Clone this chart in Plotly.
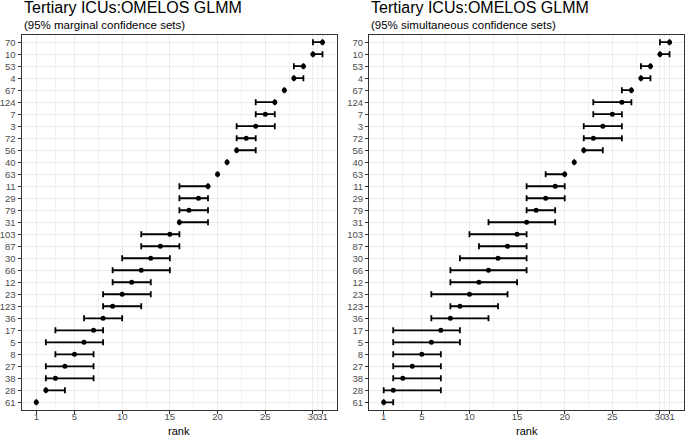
import plotly.graph_objects as go

# ---------------- data ----------------
hospitals = ["70", "10", "53", "4", "67", "124", "7", "3", "72", "56", "40", "63",
             "11", "29", "79", "31", "103", "87", "30", "66", "12", "23", "123",
             "36", "17", "5", "8", "27", "38", "28", "61"]
rank_est = [31, 30, 29, 28, 27, 26, 25, 24, 23, 22, 21, 20, 19, 18, 17, 16, 15,
            14, 13, 12, 11, 10, 9, 8, 7, 6, 5, 4, 3, 2, 1]
marg_lower = [30, 30, 28, 28, 27, 24, 24, 22, 22, 22, 21, 20, 16, 16, 16, 16, 12,
              12, 10, 9, 9, 8, 8, 6, 3, 2, 3, 2, 2, 2, 1]
marg_upper = [31, 31, 29, 29, 27, 26, 26, 26, 24, 24, 21, 20, 19, 19, 19, 19, 16,
              16, 15, 15, 13, 13, 12, 10, 8, 8, 7, 7, 7, 4, 1]
sim_lower = [30, 30, 28, 28, 26, 23, 23, 22, 22, 22, 21, 18, 16, 16, 16, 12, 10,
             11, 9, 8, 8, 6, 8, 6, 2, 2, 2, 2, 2, 1, 1]
sim_upper = [31, 31, 29, 29, 27, 27, 26, 26, 26, 24, 21, 20, 20, 20, 19, 19, 16,
             16, 16, 16, 15, 14, 13, 12, 9, 9, 7, 7, 7, 7, 2]
x_ticks = [1, 5, 10, 15, 20, 25, 30, 31]
x_minor = [3, 7.5, 12.5, 17.5, 22.5, 27.5, 30.5]
title_text = "Tertiary ICUs:OMELOS GLMM"
subtitles = ["(95% marginal confidence sets)", "(95% simultaneous confidence sets)"]

W, H = 685, 438
n = len(hospitals)
ypos = list(range(n, 0, -1))

FONT = "Liberation Sans, Arial, sans-serif"

fig = go.Figure()

panels = [(marg_lower, marg_upper, "x", "y"), (sim_lower, sim_upper, "x2", "y2")]
for lo, up, xa, ya in panels:
    fig.add_trace(go.Scatter(
        x=rank_est, y=ypos, mode="markers",
        marker=dict(color="black", size=5),
        error_x=dict(type="data", symmetric=False,
                     array=[u - e for u, e in zip(up, rank_est)],
                     arrayminus=[e - l for e, l in zip(rank_est, lo)],
                     color="black", thickness=1.8, width=3),
        xaxis=xa, yaxis=ya, showlegend=False, hoverinfo="skip"))

px_x = lambda p: p / W
px_y = lambda p: (H - p) / H

xdomains = [[px_x(22.0), px_x(336.8)], [px_x(369.4), px_x(683.8)]]
ydomain = [px_y(409.5), px_y(35.0)]

common_axis = dict(
    showline=True, mirror=True, linecolor="#333333", linewidth=1,
    ticks="outside", ticklen=3.5, tickcolor="#333333", tickwidth=1,
    tickfont=dict(size=9.5, color="#4d4d4d", family=FONT),
    gridcolor="#ebebeb", gridwidth=1, zeroline=False, showgrid=True,
)

layout_axes = {}
for i, (xd, xa, ya) in enumerate(zip(xdomains, ["xaxis", "xaxis2"], ["yaxis", "yaxis2"])):
    xref = "x" if i == 0 else "x2"
    yref = "y" if i == 0 else "y2"
    layout_axes[xa] = dict(
        common_axis, domain=xd, range=[-0.5, 32.5], anchor=yref,
        tickmode="array", tickvals=x_ticks, ticktext=[str(t) for t in x_ticks],
        tickangle=0, ticklabelstandoff=-5,
        minor=dict(tickmode="array", tickvals=x_minor, showgrid=True,
                   gridcolor="#f2f2f2", gridwidth=0.6, ticks=""),
    )
    layout_axes[ya] = dict(
        common_axis, domain=ydomain, range=[0.4, n + 0.6], anchor=xref,
        tickmode="array", tickvals=ypos, ticktext=hospitals,
    )

annotations = []
for i, xd in enumerate(xdomains):
    annotations.append(dict(text=title_text, x=xd[0], y=px_y(7.5), xref="paper", yref="paper",
                            xanchor="left", yanchor="middle", showarrow=False,
                            font=dict(size=16, color="black", family=FONT)))
    annotations.append(dict(text=subtitles[i], x=xd[0], y=px_y(24.5), xref="paper", yref="paper",
                            xanchor="left", yanchor="middle", showarrow=False,
                            font=dict(size=11.5, color="black", family=FONT)))
    annotations.append(dict(text="rank", x=(xd[0] + xd[1]) / 2, y=px_y(431), xref="paper",
                            yref="paper", xanchor="center", yanchor="middle", showarrow=False,
                            font=dict(size=11, color="black", family=FONT)))

fig.update_layout(
    width=W, height=H, margin=dict(l=0, r=0, t=0, b=0),
    paper_bgcolor="white", plot_bgcolor="white",
    font=dict(family=FONT), showlegend=False,
    annotations=annotations, **layout_axes,
)

fig.write_html("out.html", config={"displayModeBar": False},
               post_script="document.body.style.margin='0';document.body.style.overflow='hidden';")
